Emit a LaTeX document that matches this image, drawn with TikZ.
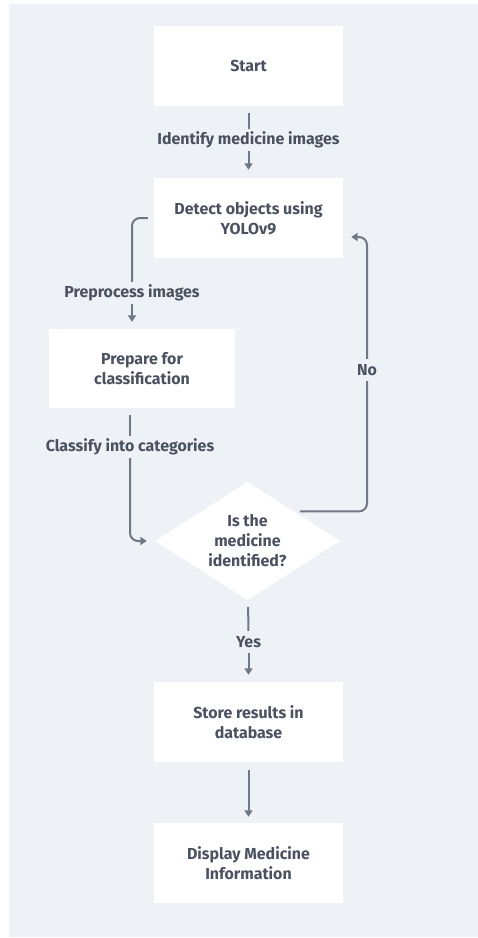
\documentclass[tikz,border=0pt]{standalone}
\usepackage{fontspec}
\setmainfont{Fira Sans}
\usetikzlibrary{shapes.geometric,arrows.meta}
\definecolor{panel}{HTML}{EEF2F6}
\definecolor{txt}{HTML}{4A5260}
\definecolor{ln}{HTML}{6F7884}
\tikzset{
  box/.style={fill=white, draw=none, minimum width=189bp, minimum height=80bp, align=center, inner sep=0pt},
  dia/.style={diamond, fill=white, draw=none, minimum width=185bp, minimum height=118bp, aspect=1.57, align=center, inner sep=0pt},
  lab/.style={inner sep=0pt, minimum height=22bp, align=center},
  conn/.style={draw=ln, line width=2bp},
  arr/.style={conn, -{Triangle[width=8bp,length=6.5bp]}},
  every node/.style={font=\fontsize{16}{20}\selectfont\bfseries, text=txt}
}
\begin{document}
\begin{tikzpicture}[x=1bp,y=-1bp]
\useasboundingbox (0,0) rectangle (478,938);
\fill[panel] (9,4) rectangle (478,937);
\node[box] (start) at (248.5,65.5) {Start};
\node[box] (detect) at (248.5,218) {Detect objects using\\YOLOv9};
\node[box, minimum width=186bp, minimum height=79bp] (prep) at (142,368.5) {Prepare for\\classification};
\node[dia] (dec) at (247.5,541) {Is the\\medicine\\identified?};
\node[box] (store) at (248.5,722) {Store results in\\database};
\node[box] (disp) at (248.5,863) {Display Medicine\\Information};
\node[lab] (l1) at (248.5,140) {Identify medicine images};
\node[lab] (l2) at (132,293) {Preprocess images};
\node[lab] (l3) at (130,447) {Classify into categories};
\node[lab] (lno) at (367,370) {No};
\node[lab] (lyes) at (248.5,642) {Yes};
\coordinate (nin) at ([yshift=-19bp]detect.east);
\draw[conn, shorten <=7bp] (start) -- (l1);
\draw[arr, shorten >=8bp] (l1) -- (detect);
\draw[conn, rounded corners=8bp, shorten <=6bp] (detect.west) -| (l2);
\draw[arr, shorten >=7bp] (l2) -- (l2 |- prep.north);
\draw[conn, shorten <=7bp] (l3 |- prep.south) -- (l3);
\draw[arr, rounded corners=8bp, shorten >=8bp] (l3) |- (dec.west);
\draw[conn, rounded corners=8bp, shorten <=6bp] (dec.north east) -| (lno);
\draw[arr, rounded corners=8bp, shorten >=8bp] (lno) |- (nin);
\draw[conn, shorten <=7bp] (dec) -- (lyes);
\draw[arr, shorten >=7bp] (lyes) -- (store);
\draw[arr, shorten <=8bp, shorten >=6bp] (store) -- (disp);
\end{tikzpicture}
\end{document}
